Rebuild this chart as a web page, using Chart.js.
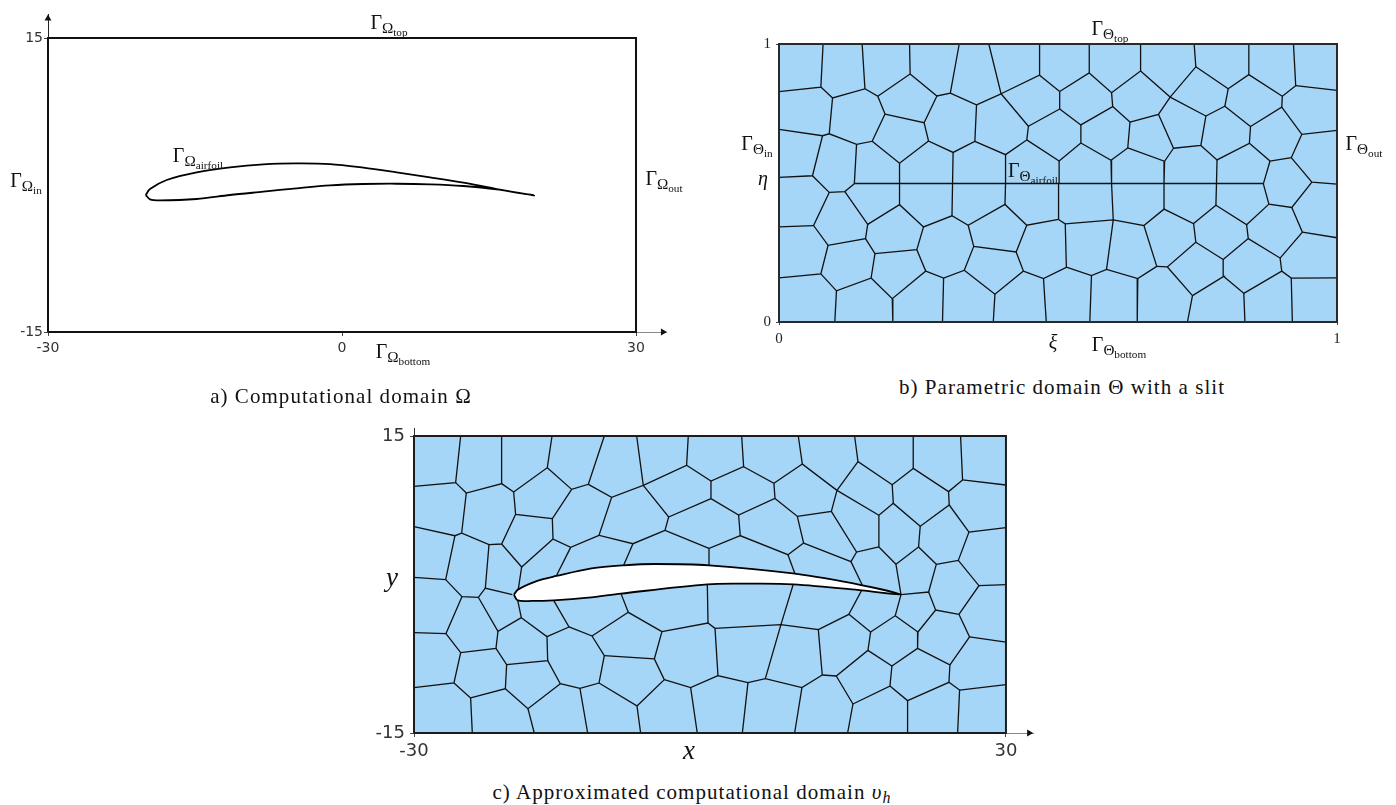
<!DOCTYPE html>
<html><head><meta charset="utf-8">
<script src="https://cdn.jsdelivr.net/npm/chart.js@4"></script>
<style>
html,body{margin:0;padding:0;background:#fff;width:1396px;height:805px;overflow:hidden}
canvas{position:absolute}
.t{position:absolute;transform:translate(-50%,-50%);font-family:"Liberation Serif",serif;color:#111;white-space:nowrap;line-height:1}
.t sub{font-size:.76em;vertical-align:-.28em;line-height:0}
.t sub sub{font-size:.74em}
.c{font-size:21px;letter-spacing:1.05px}
</style></head><body>
<script>
// Panel a) computational domain
const ticksAX=[-30,0,30], ticksAY=[-15,15];
const domainA=[[-30,-15],[30,-15],[30,15],[-30,15],[-30,-15]];
const airfoilA=[[-20.03,-1.02],[-19.59,-.41],[-17.89,.51],[-14.83,1.29],[-11.43,1.80],[-8.03,2.11],[-4.63,2.21],[-1.22,2.14],[2.18,1.77],[5.58,1.29],[8.98,.78],[12.38,.24],[15.78,-.41],[19.62,-1.06],[15.78,-.44],[12.38,-.10],[8.98,.07],[5.58,.13],[2.18,.10],[-1.22,-.04],[-4.63,-.34],[-8.03,-.68],[-11.43,-1.02],[-14.83,-1.43],[-18.57,-1.57],[-19.59,-1.46],[-20.03,-1.02]];
// Panel b) parametric domain
const ticksBX=[0,1], ticksBY=[0,1];
const domainB=[[0,0],[1,0],[1,1],[0,1],[0,0]];
const slitB=[.135,.498,.868,.498];
const meshB=[
[.079,1,.075,.845,0,.829],[.075,.845,.096,.806,.154,.839,.149,1],[.096,.806,.090,.677],
[0,.693,.078,.670,.090,.677,.139,.639,.167,.650,.190,.748,.177,.812,.154,.839],
[.177,.812,.235,.892,.234,1],[.235,.892,.283,.813,.307,.823,.323,1],[.190,.748,.260,.717,.283,.813],
[.260,.717,.268,.651,.312,.610,.351,.650,.354,.781,.307,.823],[.354,.781,.398,.821,.376,1],
[.398,.821,.467,.888,.467,1],[.467,.888,.503,.829],[.398,.821,.447,.704,.444,.655,.406,.602,.351,.650],
[.447,.704,.503,.766],[.503,.829,.503,.766],[.444,.655,.502,.579],[.078,.670,.060,.526,0,.520],
[.060,.526,.090,.466,.118,.469,.135,.497],[.139,.639,.135,.497],[.167,.650,.216,.571,.268,.651],
[.216,.571,.216,.497],[.312,.610,.311,.497],[.406,.602,.406,.497],[.502,.579,.502,.497],
[.503,.829,.556,.896,.556,1],[.556,.896,.596,.825,.648,.903,.648,1],[.596,.825,.598,.775,.541,.709,.503,.766],
[.541,.709,.541,.644,.502,.579],[.541,.644,.595,.582,.625,.626,.629,.719,.598,.775],[.595,.582,.596,.497],
[.648,.903,.701,.809,.747,.918,.744,1],[.701,.809,.680,.747,.629,.719],[.680,.747,.707,.625,.691,.578,.625,.626],
[.691,.578,.690,.497],[.701,.809,.765,.741,.756,.635,.707,.625],
[.756,.635,.785,.583,.843,.643,.845,.703,.799,.776,.765,.741],[.785,.583,.784,.497],
[.747,.918,.805,.839,.842,.890,.842,1],[.805,.839,.799,.776],[.842,.890,.902,.812,.926,.850,.922,1],
[.926,.850,1,.833],[.902,.812,.901,.773,.845,.703],[.901,.773,.937,.675,1,.689],
[.937,.675,.918,.591,.880,.579,.843,.643],[.880,.579,.868,.497],[.918,.591,.955,.503,1,.496],
[.955,.503,.919,.412,.878,.424,.868,.497],
[.118,.469,.159,.351,.155,.300,.088,.276,.062,.347,.090,.466],[.062,.347,0,.342],
[.159,.351,.216,.422,.259,.342,.310,.382,.339,.348,.405,.423,.444,.348,.501,.369],
[.216,.422,.216,.497],[.310,.382,.311,.497],[.405,.423,.406,.497],[.501,.369,.501,.497],
[.155,.300,.172,.246,.247,.260,.259,.342],[.339,.348,.349,.272,.425,.252,.444,.348],
[.088,.276,.075,.173,0,.159],[.075,.173,.103,.112,.165,.158,.172,.246],[.103,.112,.100,0],
[.165,.158,.203,.084,.263,.183,.247,.260],[.203,.084,.204,0],[.263,.183,.295,.158,.332,.186,.349,.272],
[.295,.158,.293,0],[.332,.186,.387,.100,.438,.183,.425,.252],[.387,.100,.384,0],
[.438,.183,.474,.156,.515,.197,.513,.353,.501,.369],[.474,.156,.479,0],
[.513,.353,.599,.367,.654,.347,.677,.200,.643,.156,.587,.189,.560,.167,.515,.197],[.560,.167,.557,0],
[.587,.189,.599,.367],[.599,.367,.596,.497],[.643,.156,.642,0],
[.677,.200,.696,.198,.747,.287,.743,.354,.690,.406,.654,.347],[.690,.406,.690,.497],
[.743,.354,.783,.420,.838,.350,.841,.300,.796,.225,.747,.287],[.783,.420,.784,.497],
[.696,.198,.741,.095,.732,0],[.741,.095,.797,.164,.796,.225],[.797,.164,.833,.103,.835,0],
[.833,.103,.901,.183,.898,.230,.841,.300],[.898,.230,.938,.323,.919,.412],[.938,.323,1,.303],
[.838,.350,.878,.424],[.901,.183,.918,.158,1,.159],[.918,.158,.920,0]
];
// Panel c) approximated domain
const ticksCX=[-30,30], ticksCY=[-15,15];
const domainC=[[-30,-15],[30,-15],[30,15],[-30,15],[-30,-15]];
const airfoilC=[[-19.87,-1.03],[-19.43,-.49],[-17.57,.35],[-15.58,.86],[-12.00,1.63],[-8.75,1.94],[-5.58,2.07],[-.10,1.94],[8.61,1.09],[15.44,-.08],[19.36,-1.02],[15.37,-.59],[8.44,.02],[3.88,.08],[-.27,.02],[-9.02,-.92],[-12.33,-1.33],[-15.85,-1.60],[-18.08,-1.66],[-19.49,-1.60],[-19.87,-1.03]];
const meshC=[
[-25.27,15,-25.78,10.29,-30,9.92],[-25.78,10.29,-24.70,9.24,-21.12,10.19,-21.12,15],
[-21.12,10.19,-19.90,9.34,-16.49,11.80,-16.01,15],[-16.49,11.80,-14.02,9.61,-12.33,10.12,-10.71,15],
[-12.33,10.12,-9.97,8.80,-6.76,10.02,-7.43,15],[-6.76,10.02,-2.37,12.04,-2.20,15],
[-2.37,12.04,.10,10.45,3.41,11.90,3.21,15],[.10,10.45,.10,8.67],[-6.76,10.02,-4.19,6.82,.10,8.67],
[-4.19,6.82,-4.56,5.47,-.10,3.65],[-4.56,5.47,-7.81,4.12,-11.25,4.97,-9.97,8.80],[-7.81,4.12,-8.75,1.94],
[-11.25,4.97,-14.12,3.75,-15.91,4.60,-15.98,6.65,-14.02,9.61],[-14.12,3.75,-15.58,.86],
[-15.98,6.65,-19.70,7.09,-19.90,9.34],[-19.70,7.09,-21.12,4.09,-22.40,4.02,-25.17,5.20,-24.70,9.24],
[-21.12,4.09,-19.09,1.77,-15.91,4.60],[-19.09,1.77,-19.43,-.49],[-30,5.84,-25.85,4.93,-25.17,5.20],
[-25.85,4.93,-26.79,.49,-30,.72],[-22.40,4.02,-22.77,-.37,-20.03,-1.03],
[-26.79,.49,-25.14,-1.23,-23.48,-1.29,-22.77,-.37],[-23.48,-1.29,-21.49,-4.73,-19.12,-3.35,-19.49,-1.60],
[-25.14,-1.23,-26.76,-4.96,-30,-4.86],[-26.76,-4.96,-25.27,-6.88,-21.69,-6.45,-21.49,-4.73],
[-25.27,-6.88,-25.95,-9.95,-30,-10.42],[-25.95,-9.95,-24.26,-11.46,-24.09,-15],
[-24.26,-11.46,-20.74,-10.52,-20.61,-8.09,-21.69,-6.45],[-20.61,-8.09,-16.45,-7.69,-16.52,-5.27,-19.12,-3.35],
[-16.52,-5.27,-14.29,-4.29,-15.85,-1.60],
[-14.29,-4.29,-11.96,-5.20,-10.71,-7.19,-11.25,-9.95,-13.18,-10.49,-15.17,-10.02,-16.45,-7.69],
[-20.74,-10.52,-18.45,-12.54,-15.17,-10.02],[-18.45,-12.54,-17.81,-15],[-13.18,-10.49,-12.40,-15],
[-11.25,-9.95,-7.40,-12.27,-7.03,-15],[-7.40,-12.27,-4.63,-9.61,-5.64,-7.52,-10.71,-7.19],
[-5.64,-7.52,-4.87,-4.76,-8.28,-2.81,-11.96,-5.20],[-8.28,-2.81,-9.02,-.92],
[-4.87,-4.76,-.20,-3.89,.51,-4.43],[-.20,-3.89,-.27,.02],[-4.63,-9.61,-1.96,-10.42,.81,-9.21],
[-1.96,-10.42,-1.29,-15],[.51,-4.43,.81,-9.21,3.85,-9.91,5.61,-9.51,9.32,-10.42,11.38,-9.14],
[3.85,-9.91,3.28,-15],[.51,-4.43,7.19,-4.05,10.98,-4.56,11.38,-9.14],[7.19,-4.05,8.44,.02],
[7.19,-4.05,5.61,-9.51],[9.32,-10.42,8.58,-15],
[11.38,-9.14,12.80,-9.24,16.01,-6.65,16.28,-4.80,14.08,-3.01,10.98,-4.56],[14.08,-3.01,15.37,-.59],
[16.28,-4.80,18.78,-3.15,19.36,-1.02],[18.78,-3.15,21.08,-4.80,21.04,-6.45,18.44,-8.23,16.01,-6.65],
[12.80,-9.24,14.49,-12.07,18.24,-10.25,18.44,-8.23],[14.49,-12.07,13.95,-15],
[18.24,-10.25,20.03,-11.73,20.03,-15],[20.03,-11.73,24.22,-9.88,25.30,-10.66,25.10,-15],
[25.30,-10.66,30,-10.12],[24.22,-9.88,24.32,-8.13,21.04,-6.45],[24.32,-8.13,26.31,-5.30,25.23,-3.01],
[26.31,-5.30,30,-5.81],[25.23,-3.01,22.87,-2.58,21.08,-4.80],[22.87,-2.58,22.16,-.76,19.36,-1.02],
[22.16,-.76,22.94,2.04,21.14,3.79],[22.94,2.04,25.17,2.44,27.26,-.12,25.23,-3.01],[27.26,-.12,30,-.02],
[25.17,2.44,26.25,5.30,30,5.74],[26.25,5.30,24.25,8.03,21.31,5.88,21.14,3.79,18.85,2.04,19.36,-1.02],
[24.25,8.03,24.18,9.38,25.60,10.56,25.40,15],[25.60,10.56,30,10.05],[24.18,9.38,20.60,11.73,20.60,15],
[20.60,11.73,18.47,10.08,15.00,12.41,14.66,15],[18.47,10.08,18.58,8.20,21.31,5.88],
[18.58,8.20,17.12,6.99,12.87,9.51],[17.12,6.99,17.12,3.79,18.85,2.04],[17.12,3.79,14.86,3.28,12.30,7.39],
[14.86,3.28,14.29,2.31,9.49,4.19],[14.29,2.31,15.44,-.08],[12.87,9.51,12.30,7.39,8.85,6.89],
[12.87,9.51,9.36,12.17,8.95,15],[15.00,12.41,12.87,9.51],[9.36,12.17,6.48,10.22,3.41,11.90],
[6.48,10.22,6.59,8.70,2.90,7.02,.10,8.67],[6.59,8.70,8.85,6.89,9.49,4.19,7.90,3.01,3.07,4.93,2.90,7.02],
[3.07,4.93,-.10,3.65,-.10,1.94],[7.90,3.01,8.61,1.09]
];

const pairs=a=>{const o=[];for(let i=0;i<a.length;i+=2)o.push({x:a[i],y:a[i+1]});return o};
const pts=a=>a.map(p=>({x:p[0],y:p[1]}));
const SANS='"DejaVu Sans"', SERIF='"Liberation Serif"';

function panel(o){
  const c=document.createElement('canvas');
  c.style.left=o.box[0]+'px';c.style.top=o.box[1]+'px';
  c.width=o.box[2]-o.box[0];c.height=o.box[3]-o.box[1];
  c.style.width=c.width+'px';c.style.height=c.height+'px';
  document.body.appendChild(c);
  const base={type:'scatter',showLine:true,pointRadius:0,clip:false,fill:false,tension:0};
  const ds=[];
  ds.push({...base,data:pts(o.domain),fill:'shape',backgroundColor:o.fillColor,borderWidth:0,borderColor:'transparent',order:20});
  (o.mesh||[]).forEach(m=>ds.push({...base,data:pairs(m),borderColor:'#111',borderWidth:1.3,order:10}));
  if(o.slit)ds.push({...base,data:pairs(o.slit),borderColor:'#111',borderWidth:1.5,order:9});
  if(o.airfoil)ds.push({...base,data:pts(o.airfoil),fill:'shape',backgroundColor:'#fff',borderColor:'#000',borderWidth:o.afW,tension:.32,order:5});
  ds.push({...base,data:pts(o.domain),borderColor:o.boxColor,borderWidth:o.boxW,order:2});
  (o.arrows||[]).forEach(a=>ds.push({...base,showLine:false,data:[{x:a[0],y:a[1]}],pointRadius:4,pointStyle:'triangle',rotation:a[2],backgroundColor:'#111',borderColor:'#111',borderWidth:0,order:1}));
  const axis=(min,max,ticks,isX)=>({type:'linear',min,max,
    afterBuildTicks:s=>{s.ticks=ticks.map(v=>({value:v}))},
    afterFit:s=>{if(isX)s.height=o.xh;else s.width=o.yw},
    border:{display:true,color:isX?o.xAxisColor:o.yAxisColor,width:1},
    grid:{drawOnChartArea:false,drawTicks:true,tickLength:o.tl,color:'#444'},
    ticks:{autoSkip:false,maxRotation:0,padding:isX?o.xp:o.yp,color:o.tickColor,font:{family:o.tickFont,size:o.tickSize},callback:v=>String(v)}});
  new Chart(c,{type:'scatter',data:{datasets:ds},options:{responsive:false,animation:false,events:[],
    layout:{padding:{left:0,top:o.pt,right:o.pr,bottom:0}},
    plugins:{legend:{display:false},tooltip:{enabled:false},title:{display:false}},
    scales:{x:axis(o.xr[0],o.xr[1],o.tx,true),y:axis(o.yr[0],o.yr[1],o.ty,false)}}});
}
panel({box:[0,0,700,375],pt:14,pr:34,yw:48,xh:43,xr:[-30,33.06],yr:[-15,17.45],tx:ticksAX,ty:ticksAY,
  domain:domainA,fillColor:'#fff',boxColor:'#111',boxW:2,airfoil:airfoilA,afW:1.8,arrows:[[32.75,-15,90],[-30,17.0,0]],
  xAxisColor:'#888',yAxisColor:'#222',tl:4,xp:4,yp:1,tickColor:'#333',tickFont:SANS,tickSize:14});
panel({box:[720,0,1375,360],pt:44,pr:38,yw:59,xh:38,xr:[0,1],yr:[0,1],tx:ticksBX,ty:ticksBY,
  domain:domainB,fillColor:'#a5d6f7',boxColor:'#2a2a2a',boxW:2,mesh:meshB,slit:slitB,
  xAxisColor:'#444',yAxisColor:'#444',tl:3,xp:5,yp:5,tickColor:'#222',tickFont:SERIF,tickSize:15});
panel({box:[360,410,1060,775],pt:18,pr:27,yw:54,xh:42,xr:[-30,32.74],yr:[-15,15.81],tx:ticksCX,ty:ticksCY,
  domain:domainC,fillColor:'#a5d6f7',boxColor:'#1c1c1c',boxW:2,mesh:meshC,airfoil:airfoilC,afW:1.8,arrows:[[32.35,-15,90]],
  xAxisColor:'#888',yAxisColor:'#333',tl:4,xp:4,yp:5,tickColor:'#333',tickFont:SANS,tickSize:18});

function label(html,cx,cy,size,cls){
  const d=document.createElement('div');d.className='t '+(cls||'');d.innerHTML=html;
  d.style.left=cx+'px';d.style.top=cy+'px';if(size)d.style.fontSize=size+'px';document.body.appendChild(d);
}
const G=(v,s)=>`Γ<sub>${v}<sub>${s}</sub></sub>`;
[['Ω','top',389,22],['Ω','in',26,180],['Ω','out',664,178],['Ω','airfoil',198,155],['Ω','bottom',403,351],
 ['Θ','top',1110,28],['Θ','in',757,143],['Θ','out',1364,143],['Θ','airfoil',1033,170],['Θ','bottom',1119,344]]
 .forEach(a=>label(G(a[0],a[1]),a[2],a[3],20));
label('<i>η</i>',763,178,20);
label('<i>ξ</i>',1053,342,20);
label('<i>y</i>',392,577,27);
label('<i>x</i>',689,750,27);
label('a) Computational domain Ω',341,396,null,'c');
label('b) Parametric domain Θ with a slit',1062,387,null,'c');
label('c) Approximated computational domain <i>υ<sub>h</sub></i>',692,792,null,'c');
</script>
</body></html>
